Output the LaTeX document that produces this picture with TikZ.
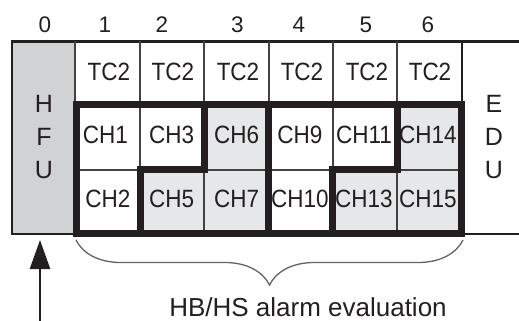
\documentclass[tikz,border=0pt]{standalone}
\usepackage{fontspec}
\setmainfont{Liberation Sans}
\newfontfamily\cellfont[FakeStretch=0.9]{Liberation Sans}
\usetikzlibrary{decorations.pathreplacing,arrows.meta}
\definecolor{hfugray}{HTML}{D1D2D4}
\definecolor{chgray}{HTML}{E6E7E8}
\definecolor{ink}{HTML}{231F20}
\begin{document}
\begin{tikzpicture}[x=1pt, y=-1pt,
  cell/.style={font=\cellfont\fontsize{25}{25}\selectfont, text=ink, inner sep=0pt},
  unit/.style={font=\fontsize{25}{33}\selectfont, text=ink, align=center, inner sep=0pt},
  colnum/.style={font=\fontsize{22.5}{22.5}\selectfont, text=ink, inner sep=0pt},
  thinrule/.style={line width=2pt, draw=ink!85},
  thickrule/.style={line width=7pt, draw=ink}]
  \useasboundingbox (0,0) rectangle (519,321);
  \fill[hfugray] (12,41.5) rectangle (75,234);
  \fill[chgray] (140.5,169.5) -- (204,169.5) -- (204,104) -- (268,104) -- (268,234) -- (140.5,234) -- cycle;
  \fill[chgray] (332.5,169.5) -- (397,169.5) -- (397,104) -- (461,104) -- (461,234) -- (332.5,234) -- cycle;
  \draw[line width=2.7pt, draw=ink] (519,41.5) -- (12,41.5) -- (12,234) -- (519,234);
  \draw[thinrule] (75,41.5) -- (75,234);
  \draw[thinrule] (139.5,41.5) -- (139.5,234);
  \draw[thinrule] (204,41.5) -- (204,234);
  \draw[thinrule] (268.5,41.5) -- (268.5,234);
  \draw[thinrule] (333,41.5) -- (333,234);
  \draw[thinrule] (397,41.5) -- (397,234);
  \draw[line width=2.7pt, draw=ink] (462,41.5) -- (462,104);
  \draw[thinrule] (76,169.5) -- (461,169.5);
  \draw[thickrule] (76.5,104) rectangle (461,233.5);
  \draw[thickrule] (204,104) -- (204,169.5) -- (140.5,169.5) -- (140.5,233.5);
  \draw[thickrule] (268,104) -- (268,233.5);
  \draw[thickrule] (397,104) -- (397,169.5) -- (332.5,169.5) -- (332.5,233.5);
  \node[colnum] (n0) at (45,25) {0};
  \node[colnum] (n1) at (105,25) {1};
  \node[colnum] (n2) at (162,25) {2};
  \node[colnum] (n3) at (237.5,25) {3};
  \node[colnum] (n4) at (299,25) {4};
  \node[colnum] (n5) at (366,25) {5};
  \node[colnum] (n6) at (428,25) {6};
  \node[cell] (tc1) at (109,72) {TC2};
  \node[cell] (tc2) at (173,72) {TC2};
  \node[cell] (tc3) at (238,72) {TC2};
  \node[cell] (tc4) at (302,72) {TC2};
  \node[cell] (tc5) at (367,72) {TC2};
  \node[cell] (tc6) at (430,72) {TC2};
  \node[cell] (ch1) at (105.5,135) {CH1};
  \node[cell] (ch3) at (171.7,135) {CH3};
  \node[cell] (ch6) at (236.7,135) {CH6};
  \node[cell] (ch9) at (300,135) {CH9};
  \node[cell] (ch11) at (364,135) {CH11};
  \node[cell] (ch14) at (428,135) {CH14};
  \node[cell] (ch2) at (108,199) {CH2};
  \node[cell] (ch5) at (171.7,199) {CH5};
  \node[cell] (ch7) at (236.7,199) {CH7};
  \node[cell] (ch10) at (300,199) {CH10};
  \node[cell] (ch13) at (364,199) {CH13};
  \node[cell] (ch15) at (428,199) {CH15};
  \node[unit] (hfu) at (44,137) {H\\F\\U};
  \node[unit] (edu) at (494,137.5) {E\\D\\U};
  \draw[decorate, decoration={brace, amplitude=45pt}, line width=1.3pt, draw=ink!70] (463,240) -- (76,240);
  \node[font=\fontsize{26}{26}\selectfont, text=ink, inner sep=0pt] (evallabel) at (308,307) {HB/HS alarm evaluation};
  \coordinate (feed) at (40,321);
  \coordinate (hfuin) at (40,240);
  \draw[-{Triangle[length=29pt, width=20pt]}, line width=2.5pt, draw=ink] (feed) -- (hfuin);
\end{tikzpicture}
\end{document}
